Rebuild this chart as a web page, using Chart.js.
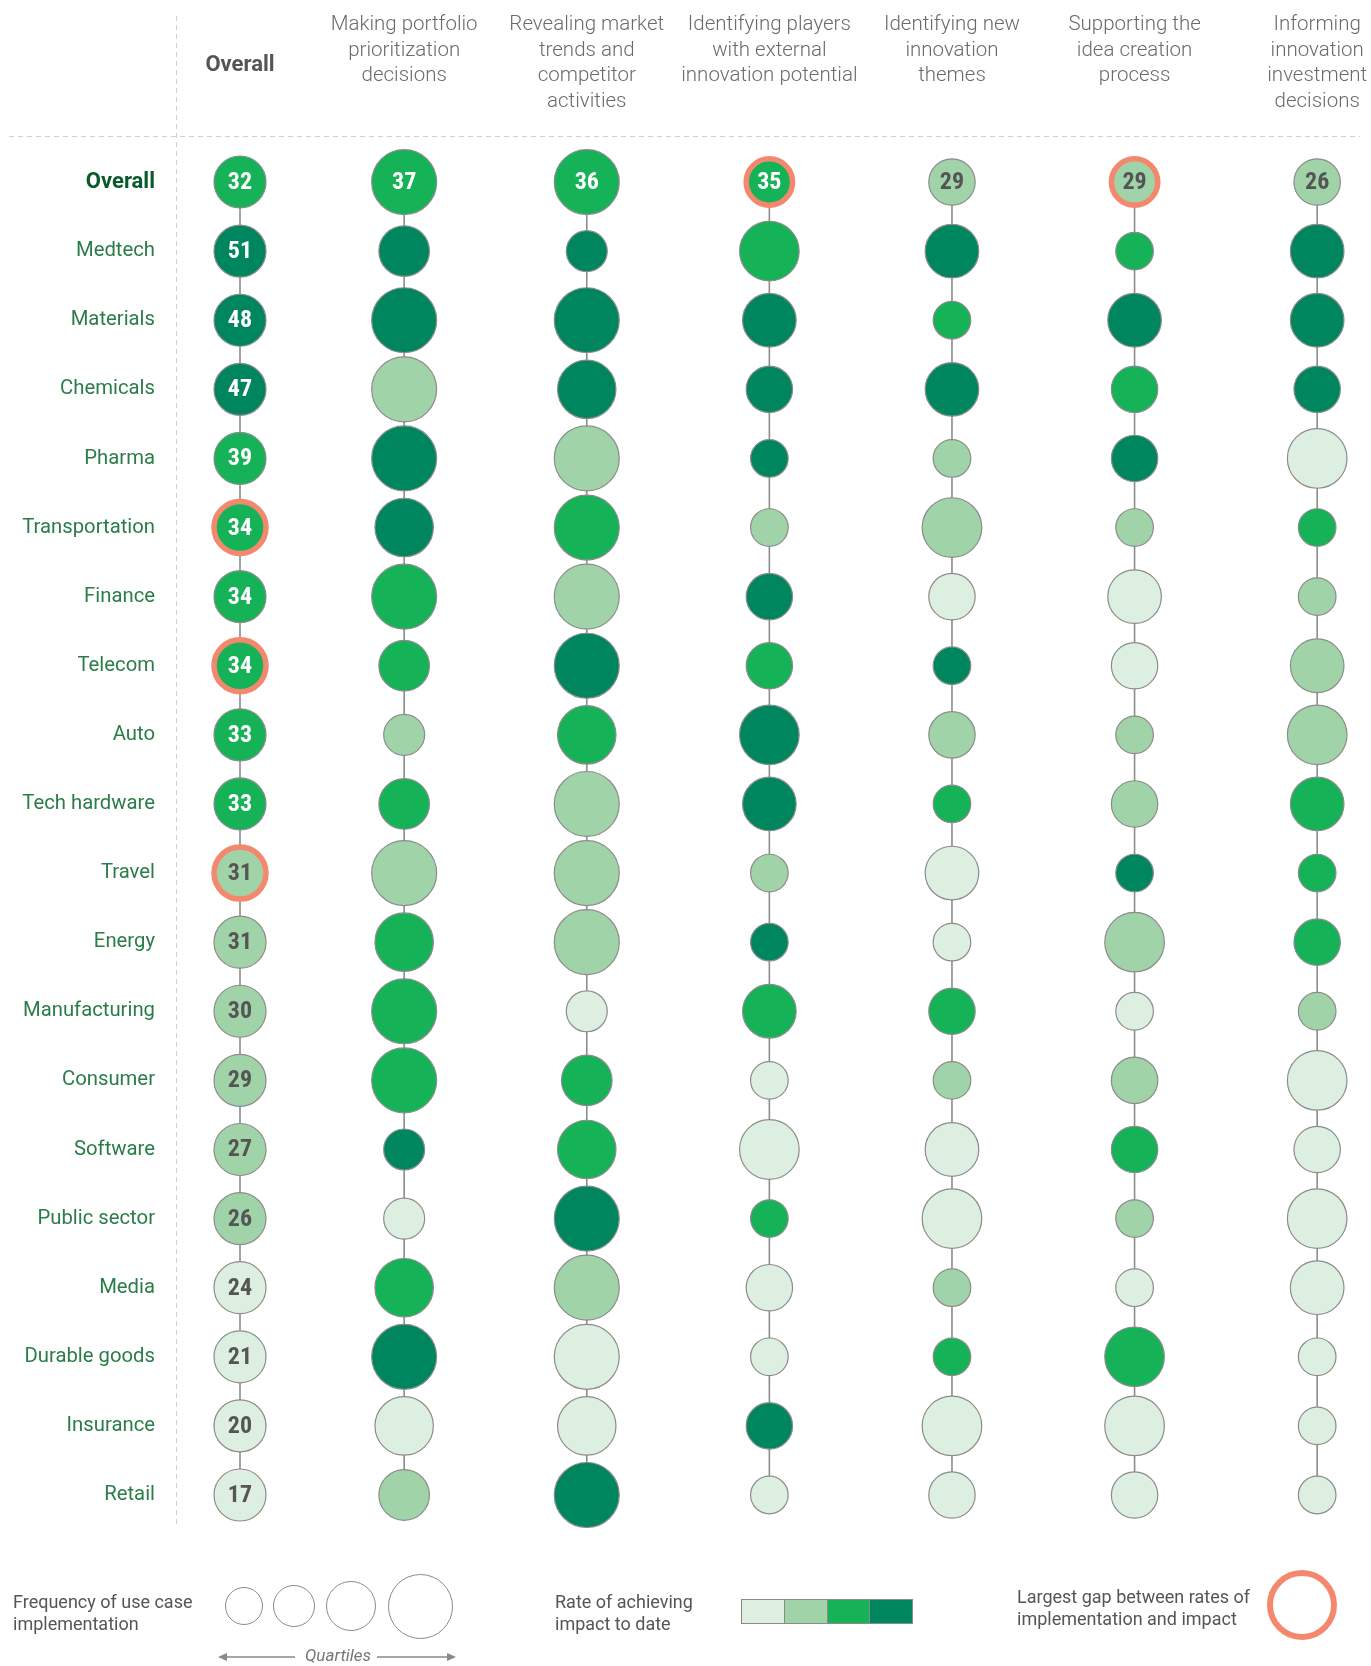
<!DOCTYPE html>
<html>
<head>
<meta charset="utf-8">
<script src="https://cdn.jsdelivr.net/npm/chart.js@4.4.1/dist/chart.umd.min.js"></script>
<style>
  html, body { margin: 0; padding: 0; background: #fff; }
  #wrap { position: relative; width: 1371px; height: 1666px; font-family: Roboto, 'Open Sans', sans-serif; overflow: hidden; }
  #chart { position: absolute; left: 0; top: 0; }
  .lgtext { position: absolute; color: #555; font-size: 18px; line-height: 22px; white-space: nowrap; }
  .lgcirc { position: absolute; box-sizing: border-box; border: 1.3px solid #8a8a8a; border-radius: 50%; background: #fff; }
  .lgbar { position: absolute; display: flex; box-sizing: border-box; border: 1.5px solid #8a8a8a; }
  .lgbar div { flex: 1; border-right: 1.5px solid #8a8a8a; }
  .lgbar div:last-child { border-right: none; }
  .ring { position: absolute; box-sizing: border-box; border: 6px solid #f4886f; border-radius: 50%; }
  .quart { position: absolute; color: #777; font-style: italic; font-size: 17px; }
</style>
</head>
<body>
<div id="wrap">
  <canvas id="chart" width="1371" height="1666"></canvas>

  <div class="lgtext" style="left:13px;top:1591px">Frequency of use case<br>implementation</div>
  <div id="lgCircles"></div>
  <svg style="position:absolute;left:215px;top:1646px" width="250" height="22">
    <line x1="10" y1="11" x2="80" y2="11" stroke="#888" stroke-width="1.5"/>
    <polygon points="3,11 12,7 12,15" fill="#888"/>
    <line x1="162" y1="11" x2="232" y2="11" stroke="#888" stroke-width="1.5"/>
    <polygon points="241,11 232,7 232,15" fill="#888"/>
  </svg>
  <div class="quart" style="left:305px;top:1645px">Quartiles</div>

  <div class="lgtext" style="left:555px;top:1591px">Rate of achieving<br>impact to date</div>
  <div class="lgbar" id="lgBar" style="left:741px;top:1599px;width:172px;height:25px"></div>

  <div class="lgtext" style="left:1017px;top:1586px">Largest gap between rates of<br>implementation and impact</div>
  <div class="ring" style="left:1267px;top:1570px;width:70px;height:70px"></div>
</div>

<script>
// ---------------- DATA ----------------
const ROWS = ['Overall', 'Medtech', 'Materials', 'Chemicals', 'Pharma', 'Transportation', 'Finance',
  'Telecom', 'Auto', 'Tech hardware', 'Travel', 'Energy', 'Manufacturing', 'Consumer', 'Software',
  'Public sector', 'Media', 'Durable goods', 'Insurance', 'Retail'];

const COLUMN_HEADERS = [
  ['', 'Overall'],
  ['Making portfolio', 'prioritization', 'decisions'],
  ['Revealing market', 'trends and', 'competitor', 'activities'],
  ['Identifying players', 'with external', 'innovation potential'],
  ['Identifying new', 'innovation', 'themes'],
  ['Supporting the', 'idea creation', 'process'],
  ['Informing', 'innovation', 'investment', 'decisions']
];

// Overall column: share of companies achieving impact (value shown) and impact level 1-4
const OVERALL_VALUES = [32, 51, 48, 47, 39, 34, 34, 34, 33, 33, 31, 31, 30, 29, 27, 26, 24, 21, 20, 17];
const OVERALL_IMPACT = [3, 4, 4, 4, 3, 3, 3, 3, 3, 3, 2, 2, 2, 2, 2, 2, 1, 1, 1, 1];
const OVERALL_GAP = ['Transportation', 'Telecom', 'Travel'];

// Overall row values for each use case column
const USECASE_OVERALL_VALUES = [37, 36, 35, 29, 29, 26];
const USECASE_OVERALL_GAP = [false, false, true, false, true, false];

// Rate of achieving impact (1 = lowest ... 4 = highest), per use case, rows as ROWS
const IMPACT_PORTFOLIO   = [3, 4, 4, 2, 4, 4, 3, 3, 2, 3, 2, 3, 3, 3, 4, 1, 3, 4, 1, 2];
const IMPACT_MARKET      = [3, 4, 4, 4, 2, 3, 2, 4, 3, 2, 2, 2, 1, 3, 3, 4, 2, 1, 1, 4];
const IMPACT_PLAYERS     = [3, 3, 4, 4, 4, 2, 4, 3, 4, 4, 2, 4, 3, 1, 1, 3, 1, 1, 4, 1];
const IMPACT_THEMES      = [2, 4, 3, 4, 2, 2, 1, 4, 2, 3, 1, 1, 3, 2, 1, 1, 2, 3, 1, 1];
const IMPACT_IDEAS       = [2, 3, 4, 3, 4, 2, 1, 1, 2, 2, 4, 2, 1, 2, 3, 2, 1, 3, 1, 1];
const IMPACT_INVESTMENT  = [2, 4, 4, 4, 1, 3, 2, 2, 2, 3, 3, 3, 2, 1, 1, 1, 1, 1, 1, 1];

// Frequency of use case implementation, quartile (1 = lowest ... 4 = highest)
const FREQ_PORTFOLIO  = [4, 2, 4, 4, 4, 3, 4, 2, 1, 2, 4, 3, 4, 4, 1, 1, 3, 4, 3, 2];
const FREQ_MARKET     = [4, 1, 4, 3, 4, 4, 4, 4, 3, 4, 4, 4, 1, 2, 3, 4, 4, 4, 3, 4];
const FREQ_PLAYERS    = [2, 4, 3, 2, 1, 1, 2, 2, 4, 3, 1, 1, 3, 1, 4, 1, 2, 1, 2, 1];
const FREQ_THEMES     = [2, 3, 1, 3, 1, 4, 2, 1, 2, 1, 3, 1, 2, 1, 3, 4, 1, 1, 4, 2];
const FREQ_IDEAS      = [2, 1, 3, 2, 2, 1, 3, 2, 1, 2, 1, 4, 1, 2, 2, 1, 1, 4, 4, 2];
const FREQ_INVESTMENT = [2, 3, 3, 2, 4, 1, 1, 3, 4, 3, 1, 2, 1, 4, 2, 4, 3, 1, 1, 1];

const USECASE_IMPACT = [IMPACT_PORTFOLIO, IMPACT_MARKET, IMPACT_PLAYERS, IMPACT_THEMES, IMPACT_IDEAS, IMPACT_INVESTMENT];
const USECASE_FREQ = [FREQ_PORTFOLIO, FREQ_MARKET, FREQ_PLAYERS, FREQ_THEMES, FREQ_IDEAS, FREQ_INVESTMENT];

// ---------------- STYLE / LAYOUT ----------------
const IMPACT_COLORS = { 1: '#ddefe0', 2: '#a0d3a8', 3: '#15b257', 4: '#00865f' };
const QUARTILE_RADIUS = { 1: 18.8, 2: 23.2, 3: 26.8, 4: 29.8 };
const COLUMN_RADIUS_SCALE = [1, 1.09, 1.09, 1, 1, 1, 1];
const OVERALL_RADIUS = 26;
const GAP_COLOR = '#f4886f';
const FONT = 'Roboto, "Open Sans", sans-serif';
const NUM_FONT = '"Liberation Sans Narrow", "Roboto Condensed", Roboto, sans-serif';
const OVERALL_COLUMN_GAP = 0.899;          // Overall column sits a bit closer to its neighbour
const colX = i => i === 0 ? 0 : OVERALL_COLUMN_GAP + (i - 1);
const HEADER_LH = 25.5;
const LABEL_AXIS_WIDTH = 176;

// ---------------- BUILD DATASETS ----------------
const points = [];
ROWS.forEach((row, r) => {
  points.push({ x: colX(0), y: r, r: OVERALL_RADIUS, impact: OVERALL_IMPACT[r],
    gap: OVERALL_GAP.includes(row), label: String(OVERALL_VALUES[r]) });
});
USECASE_IMPACT.forEach((impacts, c) => {
  impacts.forEach((imp, r) => {
    const q = USECASE_FREQ[c][r];
    points.push({ x: colX(c + 1), y: r, r: QUARTILE_RADIUS[q] * COLUMN_RADIUS_SCALE[c + 1], impact: imp,
      gap: r === 0 && USECASE_OVERALL_GAP[c], label: r === 0 ? String(USECASE_OVERALL_VALUES[c]) : null });
  });
});

const lineSets = COLUMN_HEADERS.map((_, i) => ({
  type: 'line',
  data: [{ x: colX(i), y: 0 }, { x: colX(i), y: ROWS.length - 1 }],
  borderColor: '#8c8c8c', borderWidth: 1.6, pointRadius: 0, order: 5, clip: false
}));

const bubbleSet = {
  type: 'bubble',
  data: points,
  order: 0,
  clip: false,
  backgroundColor: ctx => IMPACT_COLORS[ctx.raw.impact],
  borderColor: ctx => ctx.raw.gap ? GAP_COLOR : '#8c8c8c',
  borderWidth: ctx => ctx.raw.gap ? 5.5 : 1.2,
  hoverRadius: 0
};

const guides = {
  id: 'guides',
  beforeDatasetsDraw(chart) {
    const { ctx, chartArea: a } = chart;
    ctx.save();
    ctx.strokeStyle = '#cfcfcf';
    ctx.lineWidth = 1;
    ctx.setLineDash([5, 4]);
    ctx.beginPath();
    ctx.moveTo(a.left + 0.5, 16); ctx.lineTo(a.left + 0.5, a.bottom);
    ctx.moveTo(9, a.top + 0.5); ctx.lineTo(a.right, a.top + 0.5);
    ctx.stroke();
    ctx.restore();
  }
};

const numbers = {
  id: 'numbers',
  afterDatasetsDraw(chart) {
    const { ctx } = chart;
    const meta = chart.getDatasetMeta(chart.data.datasets.length - 1);
    ctx.save();
    ctx.textAlign = 'center';
    ctx.textBaseline = 'middle';
    ctx.font = 'bold 24px ' + NUM_FONT;
    meta.data.forEach((el, i) => {
      const p = points[i];
      if (!p.label) return;
      ctx.fillStyle = p.impact >= 3 ? '#ffffff' : '#555555';
      ctx.fillText(p.label, el.x, el.y + 1);
    });
    ctx.restore();
  }
};

new Chart(document.getElementById('chart'), {
  data: { datasets: [...lineSets, bubbleSet] },
  options: {
    responsive: false,
    animation: false,
    events: [],
    layout: { autoPadding: false, padding: { left: 0, top: 0, right: 11, bottom: 139 } },
    plugins: { legend: { display: false }, tooltip: { enabled: false } },
    scales: {
      x: {
        type: 'linear', position: 'top', min: -0.3505, max: 6.1335,
        grid: { display: false, drawTicks: false }, border: { display: false },
        afterBuildTicks: s => { s.ticks = COLUMN_HEADERS.map((_, i) => ({ value: colX(i) })); },
        afterFit: s => { s.height = 136; s.paddingLeft = 0; s.paddingRight = 0; },
        ticks: {
          autoSkip: false, maxRotation: 0, minRotation: 0, padding: -4, crossAlign: 'far',
          // trailing empty line keeps the header block clear of the dashed rule
          callback: (v, i) => [...COLUMN_HEADERS[i], ''],
          color: ctx => ctx.index === 0 ? '#555555' : '#6b6b6b',
          font: ctx => ctx.index === 0
            ? { family: FONT, size: 22, weight: 'bold', lineHeight: 35.5 / 22 }
            : { family: FONT, size: 20.5, weight: 300, lineHeight: HEADER_LH / 20.5 }
        }
      },
      y: {
        type: 'linear', position: 'left', reverse: true, min: -0.666, max: 19.463,
        grid: { display: false, drawTicks: false }, border: { display: false },
        afterBuildTicks: s => { s.ticks = ROWS.map((_, i) => ({ value: i })); },
        afterFit: s => { s.width = LABEL_AXIS_WIDTH; s.paddingTop = 0; s.paddingBottom = 0; },
        ticks: {
          autoSkip: false, padding: 21,
          callback: (v, i) => ROWS[i],
          color: ctx => ctx.index === 0 ? '#0b5a2b' : '#2a7d48',
          font: ctx => ctx.index === 0
            ? { family: FONT, size: 22, weight: 'bold' }
            : { family: FONT, size: 20.3, weight: 400 }
        }
      }
    }
  },
  plugins: [guides, numbers]
});

// ---------------- LEGEND ----------------
const LEGEND_RADII = [19, 21, 25, 32.5];
const LEGEND_CX = [244, 294, 351, 420];
const lc = document.getElementById('lgCircles');
LEGEND_RADII.forEach((r, i) => {
  const d = document.createElement('div');
  d.className = 'lgcirc';
  d.style.left = (LEGEND_CX[i] - r) + 'px';
  d.style.top = (1606 - r) + 'px';
  d.style.width = d.style.height = (2 * r) + 'px';
  lc.appendChild(d);
});
const bar = document.getElementById('lgBar');
[1, 2, 3, 4].forEach(k => {
  const d = document.createElement('div');
  d.style.background = IMPACT_COLORS[k];
  bar.appendChild(d);
});
</script>
</body>
</html>
